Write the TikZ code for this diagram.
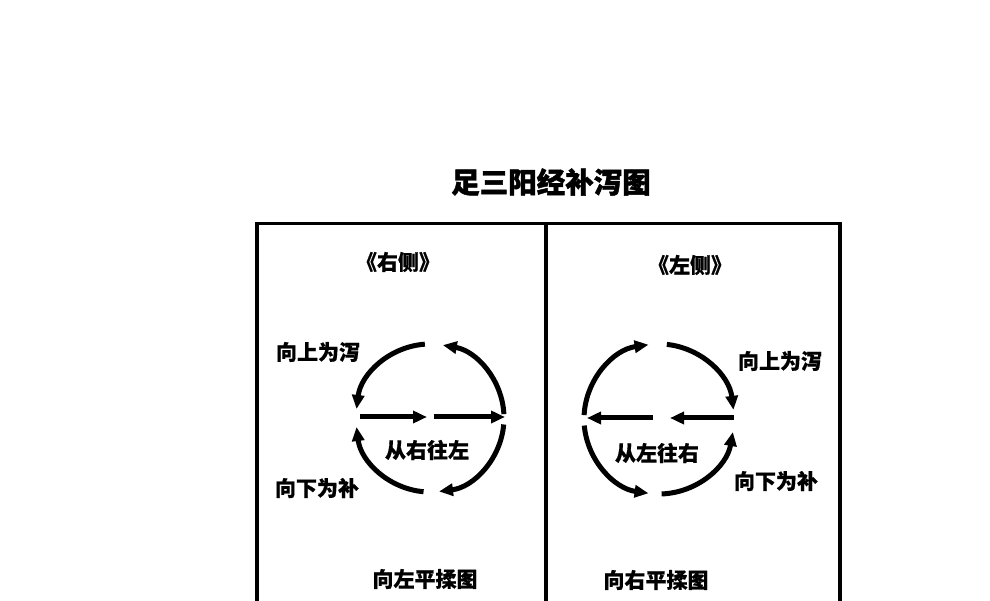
\documentclass[tikz,border=0pt]{standalone}
\usepackage{fontspec}
\newfontfamily\cjk{Noto Sans CJK SC}[BoldFeatures={FakeBold=0.6}]
\newfontfamily\cjkt{Noto Sans CJK SC}[BoldFeatures={FakeBold=1.5}]
\usetikzlibrary{arrows.meta}
\begin{document}
\begin{tikzpicture}[x=1pt,y=1pt,
  lbl/.style={font=\cjk\bfseries\fontsize{21}{24}\selectfont, inner sep=0pt},
  ttl/.style={font=\cjkt\bfseries\fontsize{28.5}{33}\selectfont, inner sep=0pt},
  frame/.style={line width=3.8pt},
  ring/.style={line width=5pt, -{Triangle[length=14pt,width=12pt]}}
]
\useasboundingbox (0,0) rectangle (990,600);
\fill[white] (0,0) rectangle (990,600);
% title
\node[ttl] (title) at (551,418) {足三阳经补泻图};
% frame
\draw[frame] (257,-10) -- (257,376.5) -- (840,376.5) -- (840,-10);
\draw[frame] (546,376.5) -- (546,-10);
% side labels
\node[lbl] (sideR) at (398,338) {《右侧》};
\node[lbl] (sideL) at (690,335) {《左侧》};
% left panel
\coordinate (cL) at (430,182);
\draw[ring] (cL) ++(94:74) arc[start angle=94, end angle=173, radius=74];
\draw[ring] (cL) ++(3:74) arc[start angle=3, end angle=80, radius=74];
\draw[ring] (cL) ++(-5:74) arc[start angle=-5, end angle=-83, radius=74];
\draw[ring] (cL) ++(-95:74) arc[start angle=-95, end angle=-173, radius=74];
\coordinate (L1) at (360,183);
\coordinate (L2) at (427,183);
\coordinate (L3) at (434,183);
\coordinate (L4) at (505,183);
\draw[ring] (L1) -- (L2);
\draw[ring] (L3) -- (L4);
\node[lbl] (Lup) at (318,248) {向上为泻};
\node[lbl] (Ldn) at (317,112) {向下为补};
\node[lbl] (Lc) at (427,150) {从右往左};
\node[lbl] (Lb) at (425,21) {向左平揉图};
% right panel
\coordinate (cR) at (659,181);
\draw[ring] (cR) ++(177:75) arc[start angle=177, end angle=98, radius=75];
\draw[ring] (cR) ++(84:75) arc[start angle=84, end angle=7, radius=75];
\draw[ring] (cR) ++(-88:75) arc[start angle=-88, end angle=-10, radius=75];
\draw[ring] (cR) ++(185:75) arc[start angle=185, end angle=262, radius=75];
\coordinate (R1) at (734,182);
\coordinate (R2) at (670,182);
\coordinate (R3) at (653,182);
\coordinate (R4) at (587,182);
\draw[ring] (R1) -- (R2);
\draw[ring] (R3) -- (R4);
\node[lbl] (Rup) at (780,239) {向上为泻};
\node[lbl] (Rdn) at (776,119) {向下为补};
\node[lbl] (Rc) at (657,147) {从左往右};
\node[lbl] (Rb) at (656,20) {向右平揉图};
\end{tikzpicture}
\end{document}
